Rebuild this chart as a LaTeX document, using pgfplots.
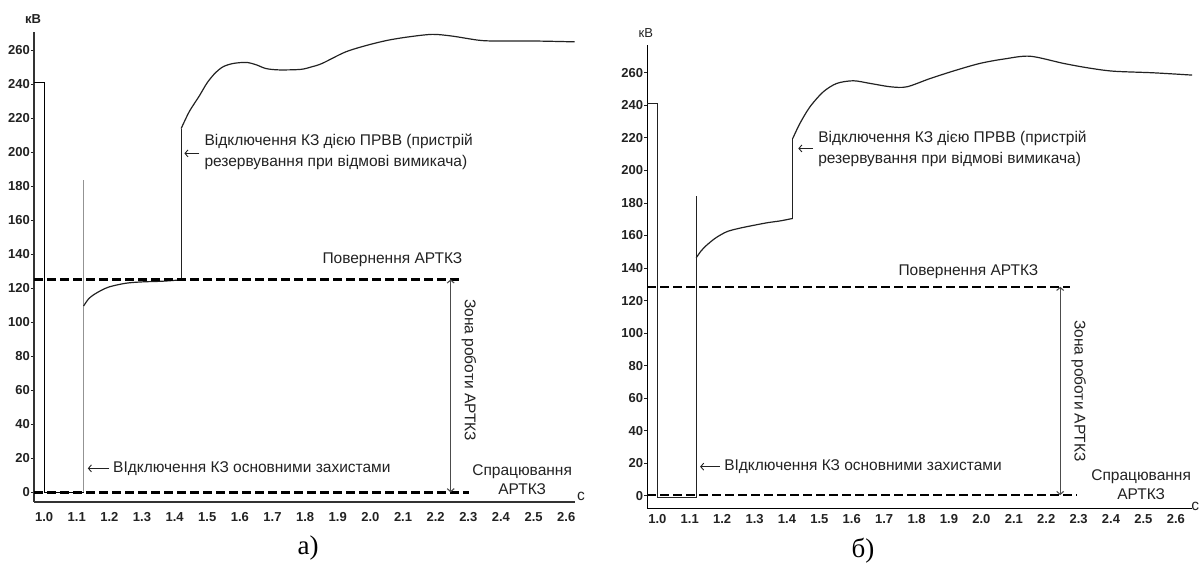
\documentclass[border=0pt]{standalone}
\usepackage{fontspec}
\setmainfont{Liberation Sans}
\newfontfamily\seriffont{Liberation Serif}
\usepackage{pgfplots}
\pgfplotsset{compat=1.18}
\usetikzlibrary{arrows.meta}

\definecolor{ink}{HTML}{222222}
\definecolor{thin}{HTML}{6E6E6E}

\tikzset{
  txt/.style={font=\fontsize{15.5bp}{21bp}\selectfont, text=ink, inner sep=0pt},
  dashln/.style={black, line width=2.5bp, dash pattern=on 9bp off 4bp},
  curve/.style={ink, line width=1.2bp},
}
\pgfplotsset{
  panel/.style={
    scale only axis, clip=false,
    axis lines=left, axis line style={-},
    tick align=outside, major tick length=3bp,
    xtick style={draw=none},
    ytick style={ink, line width=0.8bp},
    ytick={0,20,...,260},
    xtick={1.0,1.1,1.2,1.3,1.4,1.5,1.6,1.7,1.8,1.9,2.0,2.1,2.2,2.3,2.4,2.5,2.6},
    xticklabels={1.0,1.1,1.2,1.3,1.4,1.5,1.6,1.7,1.8,1.9,2.0,2.1,2.2,2.3,2.4,2.5,2.6},
    tick label style={font=\fontsize{13bp}{15bp}\selectfont\bfseries, text=ink},
    /pgf/number format/assume math mode=true,
    yticklabel style={inner sep=1bp},
  },
}

\begin{document}
\begin{tikzpicture}

% ---------- а) ----------
\begin{axis}[panel,
  at={(34bp,64.3bp)}, anchor=south west,
  width=541bp, height=469.7bp,
  xmin=0.969, xmax=2.627, ymin=-5.5, ymax=270.8,
  axis line style={line width=1.8bp, black!80},
  xticklabel style={yshift=-4bp},
]
\addplot[thin, line width=1bp] coordinates {(0.969,241) (1.0,241) (1.0,0) (1.121,0)};
\addplot[gray!85, line width=1bp] coordinates {(1.121,0) (1.121,184)};
\addplot[curve, smooth] coordinates {
  (1.121,109.6) (1.135,113.5) (1.15,116) (1.175,118.8) (1.2,120.9)
  (1.25,123) (1.3,123.8) (1.363,124.2) (1.42,125)};
\addplot[curve] coordinates {(1.42,125) (1.42,214)};
\addplot[curve, smooth] coordinates {
  (1.42,214) (1.445,224) (1.475,233) (1.5,241) (1.526,247) (1.55,250.5)
  (1.58,252.3) (1.62,252.9) (1.65,251.5) (1.68,249.3) (1.72,248.5)
  (1.786,248.8) (1.82,250.3) (1.852,252.3) (1.923,259) (1.99,263)
  (2.055,266) (2.12,268) (2.19,269.4) (2.25,268.4) (2.33,266)
  (2.38,265.5) (2.5,265.5) (2.626,265)};
\addplot[dashln] coordinates {(0.969,125.3) (2.279,125.3)};
\addplot[dashln] coordinates {(0.969,0) (2.302,0)};

\draw[{Straight Barb[length=3bp,width=7bp]}-{Straight Barb[length=3bp,width=7bp]}, black!70, line width=1.1bp]
  (axis cs:2.246,125.3) -- (axis cs:2.246,0);
\draw[-{Straight Barb[length=3bp,width=7bp]}, ink, line width=0.9bp]
  (axis cs:1.476,199.4) -- (axis cs:1.43,199.4);
\draw[-{Straight Barb[length=3bp,width=7bp]}, ink, line width=0.9bp]
  (axis cs:1.2,14.1) -- (axis cs:1.134,14.1);

\node[txt, anchor=west, align=left] at (axis cs:1.491,200.2)
  {Відключення КЗ дією ПРВВ (пристрій\\резервування при відмові вимикача)};
\node[txt, anchor=west] at (axis cs:1.211,14.1) {ВІдключення КЗ основними захистами};
\node[txt, anchor=east] at (axis cs:2.282,136.7) {Повернення АРТКЗ};
\node[txt, rotate=-90] at (axis cs:2.302,72) {Зона роботи АРТКЗ};
\node[txt, align=center, font=\fontsize{15.5bp}{19bp}\selectfont] at (axis cs:2.465,7.5) {Спрацювання\\АРТКЗ};
\node[font=\fontsize{13bp}{15bp}\selectfont\bfseries, text=ink, inner sep=0pt] at (axis cs:0.966,278.2) {кВ};
\node[txt] at (axis cs:2.645,-2.5) {с};
\end{axis}

% ---------- б) ----------
\begin{axis}[panel,
  at={(647.3bp,57.7bp)}, anchor=south west,
  width=544.4bp, height=463.3bp,
  xmin=0.969, xmax=2.649, ymin=-7.7, ymax=277.1,
  axis line style={line width=1.4bp, black},
]
\addplot[curve] coordinates {(0.969,241) (1.0,241) (1.0,-1) (1.12,-1) (1.12,184)};
\addplot[curve, smooth] coordinates {
  (1.12,146.3) (1.135,150.5) (1.152,154) (1.18,158.5) (1.214,162.3)
  (1.25,164.3) (1.286,165.8) (1.338,167.8) (1.38,169) (1.418,170.5)};
\addplot[curve] coordinates {(1.418,170.5) (1.418,219.7)};
\addplot[curve, smooth] coordinates {
  (1.418,219.7) (1.44,228.9) (1.471,239.1) (1.512,248.3) (1.554,253.5)
  (1.605,255.1) (1.656,253.5) (1.72,251.4) (1.77,251.4) (1.842,256.5)
  (1.92,261.5) (1.996,265.8) (2.07,268.5) (2.15,270.2) (2.253,265.8)
  (2.33,263) (2.407,261) (2.531,260) (2.65,258.6)};
\addplot[dashln, line width=2.2bp] coordinates {(0.969,128.5) (2.274,128.5)};
\addplot[dashln, line width=2.2bp] coordinates {(0.969,0.4) (2.294,0.4)};

\draw[{Straight Barb[length=3bp,width=7bp]}-{Straight Barb[length=3bp,width=7bp]}, black!70, line width=1.1bp]
  (axis cs:2.243,128.5) -- (axis cs:2.243,0.4);
\draw[-{Straight Barb[length=3bp,width=7bp]}, ink, line width=0.9bp]
  (axis cs:1.481,213.5) -- (axis cs:1.435,213.5);
\draw[-{Straight Barb[length=3bp,width=7bp]}, ink, line width=0.9bp]
  (axis cs:1.193,17.9) -- (axis cs:1.132,17.9);

\node[txt, anchor=west, align=left] at (axis cs:1.496,213.1)
  {Відключення КЗ дією ПРВВ (пристрій\\резервування при відмові вимикача)};
\node[txt, anchor=west] at (axis cs:1.206,17.9) {ВІдключення КЗ основними захистами};
\node[txt, anchor=east] at (axis cs:2.176,137.7) {Повернення АРТКЗ};
\node[txt, rotate=-90] at (axis cs:2.30,64.5) {Зона роботи АРТКЗ};
\node[txt, align=center, font=\fontsize{15.5bp}{19bp}\selectfont] at (axis cs:2.493,6.8) {Спрацювання\\АРТКЗ};
\node[font=\fontsize{13bp}{15bp}\selectfont, text=ink, inner sep=0pt] at (axis cs:0.9645,284.2) {кВ};
\node[txt] at (axis cs:2.66,-6.8) {с};
\end{axis}

\node[font=\seriffont\fontsize{27bp}{30bp}\selectfont, inner sep=0pt] at (308bp,18bp) {а)};
\node[font=\seriffont\fontsize{27bp}{30bp}\selectfont, inner sep=0pt] at (863bp,15bp) {б)};

\pgfresetboundingbox
\path (0,0) rectangle (1199bp,566bp);
\end{tikzpicture}
\end{document}
